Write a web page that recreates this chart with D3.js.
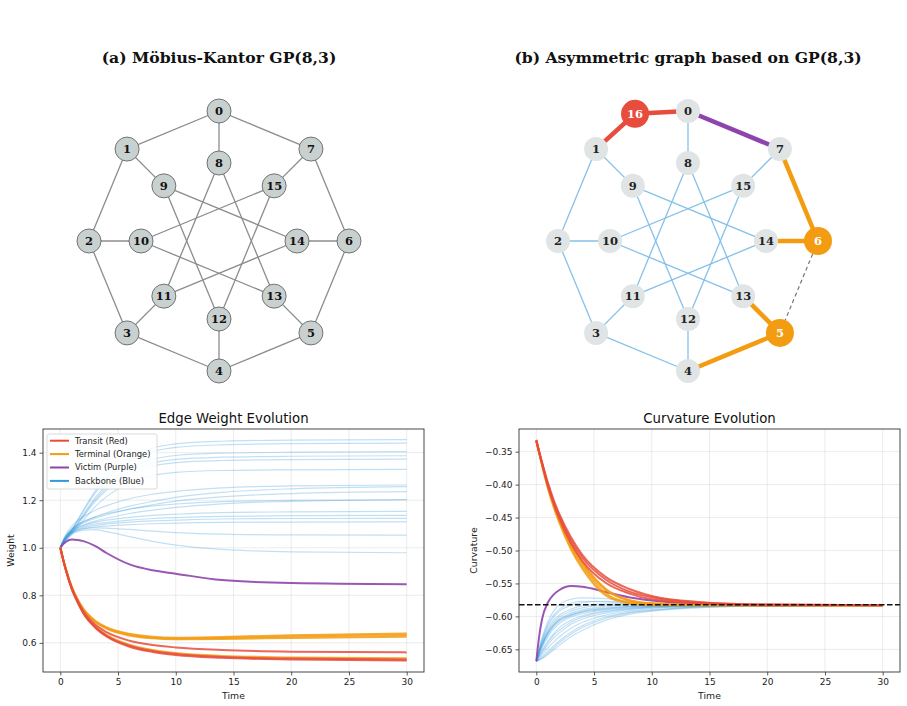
<!DOCTYPE html>
<html><head><meta charset="utf-8">
<script src="https://cdn.jsdelivr.net/npm/d3@7"></script>
<style>body{margin:0;background:#fff}svg{display:block}</style>
</head><body><svg id="c" width="907" height="706"></svg>
<script>
// ---------- graph data ----------
const nodeIds = [0,1,2,3,4,5,6,7,8,9,10,11,12,13,14,15];
const nodeAngle = [90,135,180,225,270,315,0,45,90,135,180,225,270,315,0,45];
const nodeRing = [1,1,1,1,1,1,1,1,0.6,0.6,0.6,0.6,0.6,0.6,0.6,0.6];
const extraNode = {id:16, angle:112.6, ring:1.06};
const outerEdges = [[0,1],[1,2],[2,3],[3,4],[4,5],[5,6],[6,7],[7,0]];
const spokeEdges = [[0,8],[1,9],[2,10],[3,11],[4,12],[5,13],[6,14],[7,15]];
const innerEdges = [[8,11],[9,12],[10,13],[11,14],[12,15],[13,8],[14,9],[15,10]];
const transitEdges = [[0,16],[16,1]];
const victimEdges = [[0,7]];
const terminalEdges = [[7,6],[6,14],[13,5],[5,4]];
const removedEdges = [[6,5]];
const backboneEdges = [[1,2],[2,3],[3,4],[0,8],[1,9],[2,10],[3,11],[4,12],[7,15],
  [8,11],[9,12],[10,13],[11,14],[12,15],[13,8],[14,9],[15,10]];
const terminalNodes = [5,6];

// ---------- time series ----------
const T = [0, 0.25, 0.5, 1, 1.5, 2, 3, 4, 6, 8, 10, 14, 20, 30];
const wBlue = [
 [1,1.020,1.041,1.077,1.118,1.159,1.237,1.296,1.378,1.419,1.437,1.448,1.453,1.455],
 [1,1.020,1.040,1.075,1.114,1.154,1.229,1.286,1.365,1.405,1.422,1.433,1.438,1.440],
 [1,1.018,1.036,1.069,1.105,1.141,1.210,1.263,1.335,1.372,1.388,1.398,1.402,1.404],
 [1,1.017,1.035,1.066,1.101,1.135,1.201,1.252,1.321,1.356,1.372,1.381,1.385,1.387],
 [1,1.017,1.034,1.063,1.097,1.131,1.194,1.242,1.310,1.343,1.358,1.367,1.371,1.373],
 [1,1.015,1.030,1.056,1.086,1.116,1.172,1.215,1.274,1.304,1.317,1.325,1.328,1.330],
 [1,1.033,1.058,1.091,1.114,1.131,1.157,1.177,1.206,1.225,1.237,1.252,1.260,1.264],
 [1,1.029,1.050,1.078,1.096,1.108,1.130,1.147,1.175,1.195,1.212,1.233,1.248,1.257],
 [1,1.028,1.049,1.076,1.092,1.104,1.123,1.138,1.163,1.181,1.196,1.214,1.228,1.236],
 [1,1.030,1.052,1.080,1.098,1.111,1.129,1.143,1.162,1.176,1.184,1.194,1.199,1.202],
 [1,1.027,1.046,1.072,1.086,1.096,1.112,1.124,1.144,1.158,1.170,1.185,1.195,1.202],
 [1,1.027,1.047,1.071,1.085,1.094,1.107,1.116,1.128,1.136,1.141,1.148,1.151,1.153],
 [1,1.026,1.045,1.068,1.081,1.089,1.100,1.106,1.116,1.123,1.127,1.132,1.135,1.136],
 [1,1.026,1.044,1.066,1.078,1.085,1.094,1.100,1.108,1.113,1.116,1.121,1.123,1.124],
 [1,1.025,1.042,1.063,1.074,1.080,1.088,1.091,1.097,1.101,1.104,1.107,1.108,1.109],
 [1,1.024,1.040,1.062,1.073,1.080,1.084,1.083,1.077,1.070,1.064,1.057,1.054,1.053],
 [1,1.023,1.038,1.058,1.068,1.074,1.076,1.068,1.047,1.027,1.011,0.993,0.983,0.979]
];
const wPurple = [[1,1.016,1.026,1.035,1.033,1.028,1.008,0.978,0.930,0.905,0.891,0.864,0.852,0.847]];
const wOrange = [
 [1,0.951,0.907,0.834,0.783,0.743,0.694,0.666,0.638,0.626,0.622,0.625,0.632,0.640],
 [1,0.951,0.907,0.833,0.782,0.741,0.691,0.662,0.634,0.622,0.618,0.620,0.627,0.633],
 [1,0.950,0.906,0.832,0.780,0.740,0.689,0.660,0.631,0.619,0.615,0.616,0.621,0.626],
 [1,0.950,0.904,0.828,0.774,0.729,0.671,0.634,0.592,0.570,0.557,0.545,0.539,0.535]
];
const wRed = [
 [1,0.950,0.905,0.830,0.777,0.733,0.678,0.645,0.609,0.591,0.581,0.570,0.563,0.560],
 [1,0.949,0.903,0.826,0.772,0.726,0.668,0.630,0.588,0.566,0.553,0.541,0.534,0.530],
 [1,0.949,0.902,0.825,0.770,0.724,0.665,0.627,0.584,0.562,0.549,0.537,0.530,0.526]
];
const cBlue = [
 [-0.668,-0.648,-0.632,-0.608,-0.592,-0.582,-0.574,-0.572,-0.573,-0.577,-0.580,-0.582,-0.583,-0.583],
 [-0.668,-0.650,-0.635,-0.612,-0.598,-0.589,-0.580,-0.577,-0.578,-0.580,-0.581,-0.582,-0.583,-0.583],
 [-0.668,-0.652,-0.639,-0.619,-0.606,-0.598,-0.589,-0.584,-0.581,-0.581,-0.582,-0.583,-0.583,-0.583],
 [-0.668,-0.654,-0.642,-0.624,-0.612,-0.604,-0.595,-0.590,-0.585,-0.583,-0.583,-0.583,-0.583,-0.583],
 [-0.668,-0.655,-0.644,-0.626,-0.614,-0.606,-0.598,-0.593,-0.588,-0.585,-0.584,-0.583,-0.583,-0.583],
 [-0.668,-0.656,-0.645,-0.628,-0.616,-0.608,-0.599,-0.594,-0.589,-0.586,-0.585,-0.584,-0.583,-0.583],
 [-0.668,-0.657,-0.647,-0.631,-0.619,-0.611,-0.601,-0.596,-0.590,-0.587,-0.585,-0.584,-0.583,-0.583],
 [-0.668,-0.659,-0.651,-0.637,-0.626,-0.617,-0.606,-0.599,-0.592,-0.588,-0.586,-0.584,-0.583,-0.583],
 [-0.668,-0.661,-0.655,-0.643,-0.633,-0.625,-0.612,-0.604,-0.595,-0.590,-0.587,-0.585,-0.583,-0.583],
 [-0.668,-0.663,-0.658,-0.648,-0.639,-0.631,-0.618,-0.609,-0.598,-0.592,-0.588,-0.585,-0.584,-0.583],
 [-0.668,-0.665,-0.661,-0.653,-0.645,-0.637,-0.624,-0.614,-0.601,-0.594,-0.590,-0.586,-0.584,-0.583],
 [-0.668,-0.666,-0.664,-0.658,-0.651,-0.644,-0.631,-0.621,-0.606,-0.597,-0.592,-0.587,-0.584,-0.583],
 [-0.668,-0.666,-0.663,-0.656,-0.648,-0.640,-0.627,-0.617,-0.603,-0.595,-0.591,-0.586,-0.584,-0.583],
 [-0.668,-0.655,-0.643,-0.625,-0.613,-0.605,-0.597,-0.592,-0.587,-0.585,-0.584,-0.583,-0.583,-0.583],
 [-0.668,-0.653,-0.641,-0.622,-0.609,-0.601,-0.592,-0.587,-0.583,-0.582,-0.582,-0.583,-0.583,-0.583],
 [-0.668,-0.651,-0.637,-0.615,-0.601,-0.592,-0.583,-0.579,-0.577,-0.578,-0.580,-0.582,-0.583,-0.583],
 [-0.668,-0.660,-0.653,-0.640,-0.629,-0.621,-0.609,-0.601,-0.593,-0.589,-0.586,-0.584,-0.583,-0.583]
];
const cPurple = [[-0.668,-0.630,-0.604,-0.579,-0.567,-0.560,-0.554,-0.555,-0.563,-0.571,-0.576,-0.581,-0.583,-0.583]];
const cOrange = [
 [-0.333,-0.352,-0.370,-0.404,-0.432,-0.456,-0.495,-0.524,-0.565,-0.579,-0.582,-0.583,-0.583,-0.583],
 [-0.333,-0.351,-0.369,-0.402,-0.430,-0.453,-0.491,-0.520,-0.560,-0.576,-0.581,-0.583,-0.583,-0.583],
 [-0.334,-0.352,-0.371,-0.405,-0.434,-0.458,-0.498,-0.528,-0.568,-0.580,-0.583,-0.583,-0.583,-0.583],
 [-0.333,-0.351,-0.368,-0.401,-0.428,-0.451,-0.489,-0.518,-0.558,-0.575,-0.580,-0.582,-0.583,-0.583]
];
const cRed = [
 [-0.332,-0.351,-0.368,-0.400,-0.426,-0.448,-0.484,-0.511,-0.544,-0.562,-0.571,-0.579,-0.582,-0.583],
 [-0.333,-0.350,-0.366,-0.397,-0.423,-0.445,-0.480,-0.507,-0.540,-0.558,-0.569,-0.578,-0.582,-0.583],
 [-0.334,-0.352,-0.369,-0.402,-0.429,-0.452,-0.489,-0.516,-0.549,-0.565,-0.574,-0.580,-0.583,-0.583]
];
const equilibrium = -0.5825;
const xTicks = [0,5,10,15,20,25,30];
const wTicks = [0.6,0.8,1.0,1.2,1.4];
const cTicks = [-0.35,-0.40,-0.45,-0.50,-0.55,-0.60,-0.65];
const legendLabels = ["Transit (Red)","Terminal (Orange)","Victim (Purple)","Backbone (Blue)"];
const colors = {red:"#e74c3c", orange:"#f39c12", purple:"#8e44ad", blue:"#3498db", lightBlue:"#85c1e9"};

const svg = d3.select("#c");
const serif = "'DejaVu Serif', serif";
const sans = "'DejaVu Sans', sans-serif";

// ---------- graph panels ----------
function pos(scaleX, scaleY, angle, ring){
  const a = angle*Math.PI/180;
  return [scaleX(ring*Math.cos(a)), scaleY(ring*Math.sin(a))];
}
function graphPanel(cx, title, variant){
  const sx = d3.scaleLinear().domain([-1,1]).range([cx-130, cx+130]);
  const sy = d3.scaleLinear().domain([-1,1]).range([241+130, 241-130]);
  const P = {};
  nodeIds.forEach(i => P[i] = pos(sx, sy, nodeAngle[i], nodeRing[i]));
  if (variant==="b") P[extraNode.id] = pos(sx, sy, extraNode.angle, extraNode.ring);
  const g = svg.append("g");
  g.append("text").attr("x",cx).attr("y",62.5).attr("text-anchor","middle")
    .attr("font-family",serif).attr("font-weight","bold").attr("font-size",15.6).attr("fill","#111").text(title);
  const drawEdges = (list, stroke, width, dash) => g.append("g").selectAll("line").data(list).join("line")
    .attr("x1",d=>P[d[0]][0]).attr("y1",d=>P[d[0]][1]).attr("x2",d=>P[d[1]][0]).attr("y2",d=>P[d[1]][1])
    .attr("stroke",stroke).attr("stroke-width",width).attr("stroke-dasharray",dash||null).attr("stroke-linecap","butt");
  let nodes;
  if (variant==="a"){
    drawEdges(outerEdges.concat(spokeEdges, innerEdges), "#8c8c8c", 1.3);
    nodes = nodeIds.map(i=>({id:i, r:12, fill:"#c9d0d0", stroke:"#666", text:"#111"}));
  } else {
    drawEdges(backboneEdges, colors.lightBlue, 1.3);
    drawEdges(removedEdges, "#777", 1.2, "4,3");
    drawEdges(transitEdges, colors.red, 4.5);
    drawEdges(victimEdges, colors.purple, 4.5);
    drawEdges(terminalEdges, colors.orange, 4.5);
    nodes = nodeIds.map(i=> terminalNodes.includes(i)
      ? {id:i, r:14, fill:colors.orange, stroke:"none", text:"#fff"}
      : {id:i, r:12, fill:"#e0e4e4", stroke:"none", text:"#222"});
    nodes.push({id:16, r:14, fill:colors.red, stroke:"none", text:"#fff"});
  }
  const ng = g.append("g").selectAll("g").data(nodes).join("g")
    .attr("transform", d=>`translate(${P[d.id][0]},${P[d.id][1]})`);
  ng.append("circle").attr("r",d=>d.r).attr("fill",d=>d.fill).attr("stroke",d=>d.stroke).attr("stroke-width",0.9);
  ng.append("text").attr("text-anchor","middle").attr("dy","0.36em")
    .attr("font-family",serif).attr("font-weight","bold").attr("font-size",11.5).attr("fill",d=>d.text).text(d=>d.id);
}
graphPanel(219, "(a) Möbius-Kantor GP(8,3)", "a");
graphPanel(688, "(b) Asymmetric graph based on GP(8,3)", "b");

// ---------- line charts ----------
function lineChart(opt){
  const x = d3.scaleLinear().domain([-1.5,31.5]).range([opt.x0, opt.x1]);
  const y = d3.scaleLinear().domain(opt.yDomain).range([672, 429]);
  const g = svg.append("g");
  g.append("g").selectAll("line").data(xTicks).join("line")
    .attr("x1",d=>x(d)).attr("x2",d=>x(d)).attr("y1",429).attr("y2",672)
    .attr("stroke","#b0b0b0").attr("stroke-opacity",0.3).attr("stroke-width",0.8);
  g.append("g").selectAll("line").data(opt.yTicks).join("line")
    .attr("x1",opt.x0).attr("x2",opt.x1).attr("y1",d=>y(d)).attr("y2",d=>y(d))
    .attr("stroke","#b0b0b0").attr("stroke-opacity",0.3).attr("stroke-width",0.8);
  const line = d3.line().x((d,i)=>x(T[i])).y(d=>y(d)).curve(d3.curveMonotoneX);
  const clip = "clip"+opt.id;
  svg.append("clipPath").attr("id",clip).append("rect")
    .attr("x",opt.x0).attr("y",429).attr("width",opt.x1-opt.x0).attr("height",243);
  const lg = g.append("g").attr("clip-path",`url(#${clip})`);
  const draw = (series, color, width, alpha) => lg.append("g").selectAll("path").data(series).join("path")
    .attr("d", line).attr("fill","none").attr("stroke",color).attr("stroke-width",width)
    .attr("stroke-opacity",alpha).attr("stroke-linejoin","round");
  draw(opt.blue, colors.blue, 1.2, opt.blueAlpha);
  draw(opt.purple, colors.purple, 2, 0.9);
  draw(opt.orange, colors.orange, 2, 0.85);
  draw(opt.red, colors.red, 2, 0.85);
  if (opt.hline !== undefined){
    lg.append("line").attr("x1",opt.x0).attr("x2",opt.x1).attr("y1",y(opt.hline)).attr("y2",y(opt.hline))
      .attr("stroke","#111").attr("stroke-width",1.5).attr("stroke-dasharray","5.5,2.5");
  }
  const xa = g.append("g").attr("transform","translate(0,672)")
    .call(d3.axisBottom(x).tickValues(xTicks).tickSize(3.5).tickPadding(3).tickFormat(d3.format("d")));
  const ya = g.append("g").attr("transform",`translate(${opt.x0},0)`)
    .call(d3.axisLeft(y).tickValues(opt.yTicks).tickSize(3.5).tickPadding(3).tickFormat(opt.fmt));
  [xa,ya].forEach(a=>{
    a.select(".domain").remove();
    a.selectAll("line").attr("stroke","#333").attr("stroke-width",0.8);
    a.selectAll("text").attr("font-family",sans).attr("font-size",9).attr("fill","#222");
  });
  g.append("rect").attr("x",opt.x0).attr("y",429).attr("width",opt.x1-opt.x0).attr("height",243)
    .attr("fill","none").attr("stroke","#333").attr("stroke-width",0.9);
  g.append("text").attr("x",(opt.x0+opt.x1)/2).attr("y",422.5).attr("text-anchor","middle")
    .attr("font-family",sans).attr("font-size",13.3).attr("fill","#111").text(opt.title);
  g.append("text").attr("x",(opt.x0+opt.x1)/2).attr("y",699).attr("text-anchor","middle")
    .attr("font-family",sans).attr("font-size",9.3).attr("fill","#222").text("Time");
  g.append("text").attr("transform",`translate(${opt.ylabX},550.5) rotate(-90)`).attr("text-anchor","middle")
    .attr("font-family",sans).attr("font-size",9.3).attr("fill","#222").text(opt.ylabel);
  return {x,y,g};
}
const left = lineChart({id:"w", x0:43, x1:424, yDomain:[0.4775,1.4995], yTicks:wTicks, fmt:d3.format(".1f"),
  blue:wBlue, purple:wPurple, orange:wOrange, red:wRed, blueAlpha:0.3, title:"Edge Weight Evolution",
  ylabel:"Weight", ylabX:14});
lineChart({id:"k", x0:519, x1:900, yDomain:[-0.6844,-0.3156], yTicks:cTicks, fmt:d=>d3.format(".2f")(d).replace("-","\u2212"),
  blue:cBlue, purple:cPurple, orange:cOrange, red:cRed, blueAlpha:0.3, hline:equilibrium, title:"Curvature Evolution",
  ylabel:"Curvature", ylabX:477});

// legend
const leg = left.g.append("g");
leg.append("rect").attr("x",47).attr("y",434).attr("width",110).attr("height",55).attr("rx",2)
  .attr("fill","#fff").attr("fill-opacity",0.85).attr("stroke","#d0d0d0").attr("stroke-width",0.8);
const legColors = [colors.red, colors.orange, colors.purple, colors.blue];
const rows = leg.selectAll("g.r").data(legendLabels).join("g").attr("class","r")
  .attr("transform",(d,i)=>`translate(0,${440.7 + i*13.4})`);
rows.append("line").attr("x1",50).attr("x2",69).attr("stroke",(d,i)=>legColors[i]).attr("stroke-width",2);
rows.append("text").attr("x",75).attr("dy","0.35em").attr("font-family",sans).attr("font-size",8.4)
  .attr("fill","#222").text(d=>d);
</script></body></html>
